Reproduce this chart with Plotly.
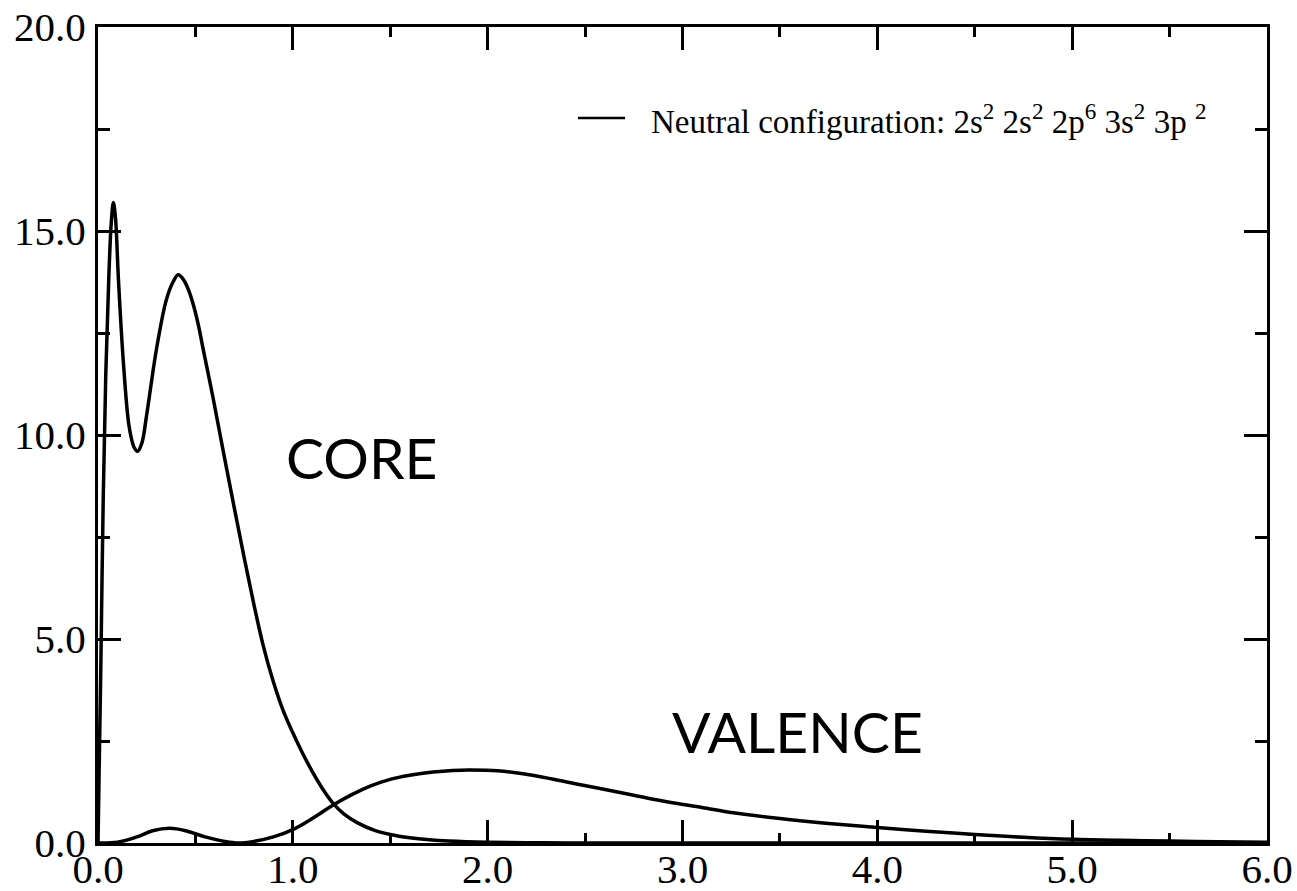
import plotly.graph_objects as go

# Core charge density
core_x = [0.0, 0.005, 0.015, 0.027, 0.04, 0.055, 0.068, 0.079, 0.09, 0.105, 0.13, 0.16, 0.185,
          0.203, 0.225, 0.25, 0.30, 0.35, 0.385, 0.412, 0.44, 0.465, 0.489, 0.515, 0.54,
          0.591, 0.643, 0.70, 0.75, 0.80, 0.85, 0.90, 0.95, 1.0, 1.05, 1.1, 1.15, 1.207,
          1.26, 1.33, 1.42, 1.5, 1.6, 1.7, 1.8, 2.0, 2.3, 2.6, 3.0, 6.0]
core_y = [0.0, 1.5, 4.5, 8.5, 11.5, 13.8, 15.2, 15.7, 15.3, 13.8, 11.8, 10.2, 9.7,
          9.6, 9.8, 10.5, 12.1, 13.3, 13.75, 13.93, 13.8, 13.55, 13.2, 12.7, 12.1,
          10.9, 9.6, 8.2, 7.0, 5.85, 4.8, 3.95, 3.25, 2.7, 2.2, 1.75, 1.35, 0.97,
          0.72, 0.5, 0.31, 0.21, 0.13, 0.08, 0.05, 0.02, 0.005, 0.0, 0.0, 0.0]

# Valence charge density
val_x = [0.0, 0.1, 0.2, 0.28, 0.37, 0.45, 0.55, 0.65, 0.72, 0.8, 0.9, 1.0, 1.1, 1.207,
         1.3, 1.4, 1.5, 1.6, 1.72, 1.82, 1.91, 2.05, 2.23, 2.4, 2.57, 2.75, 2.92, 3.1,
         3.26, 3.5, 3.75, 4.0, 4.25, 4.5, 4.75, 5.0, 5.25, 5.5, 5.75, 6.0]
val_y = [0.0, 0.02, 0.15, 0.3, 0.36, 0.3, 0.15, 0.04, 0.0, 0.04, 0.15, 0.33, 0.6, 0.93,
         1.18, 1.4, 1.56, 1.66, 1.74, 1.78, 1.79, 1.77, 1.66, 1.5, 1.34, 1.17, 1.01, 0.87,
         0.74, 0.6, 0.48, 0.38, 0.29, 0.21, 0.14, 0.09, 0.065, 0.05, 0.03, 0.02]

x_ticks = [0, 1, 2, 3, 4, 5, 6]
x_labels = ["0.0", "1.0", "2.0", "3.0", "4.0", "5.0", "6.0"]
y_ticks = [0, 5, 10, 15, 20]
y_labels = ["0.0", "5.0", "10.0", "15.0", "20.0"]

legend_text = ("Neutral configuration: 2s<sup>2</sup> 2s<sup>2</sup> 2p<sup>6</sup> "
               "3s<sup>2</sup> 3p <sup>2</sup>")

fig = go.Figure()
fig.add_trace(go.Scatter(x=core_x, y=core_y, mode="lines",
                         line=dict(color="black", width=3.5, shape="spline", smoothing=1.0),
                         showlegend=False, name="Core"))
fig.add_trace(go.Scatter(x=val_x, y=val_y, mode="lines",
                         line=dict(color="black", width=3.5, shape="spline", smoothing=1.0),
                         showlegend=False, name="Valence"))

tickfont = dict(family="Liberation Serif, Times New Roman, serif", size=41, color="black")

fig.update_xaxes(range=[0, 6], tickvals=x_ticks, ticktext=x_labels, automargin=False,
                 ticks="inside", ticklen=23, tickwidth=2.5, tickcolor="black",
                 showline=True, linewidth=3, linecolor="black", mirror="ticks",
                 showgrid=False, zeroline=False, tickfont=tickfont, ticklabelstandoff=-12,
                 minor=dict(dtick=0.5, ticks="inside", ticklen=10, tickwidth=2.5,
                            tickcolor="black", showgrid=False))
fig.update_yaxes(range=[0, 20], tickvals=y_ticks, ticktext=y_labels, automargin=False,
                 ticks="inside", ticklen=23, tickwidth=2.5, tickcolor="black",
                 showline=True, linewidth=3, linecolor="black", mirror="ticks",
                 showgrid=False, zeroline=False, tickfont=tickfont, ticklabelstandoff=1,
                 minor=dict(dtick=2.5, ticks="inside", ticklen=12, tickwidth=2.5,
                            tickcolor="black", showgrid=False))

# legend sample line and text
fig.add_shape(type="line", xref="paper", yref="paper",
              x0=(578 - 98) / 1169, x1=(625 - 98) / 1169,
              y0=(843 - 118) / 816, y1=(843 - 118) / 816,
              line=dict(color="black", width=2.5))
fig.add_annotation(text=legend_text, xref="paper", yref="paper",
                   x=(649 - 98) / 1169, y=(843 - 119) / 816,
                   xanchor="left", yanchor="middle", showarrow=False,
                   font=dict(family="Liberation Serif, Times New Roman, serif", size=33,
                             color="black"))

labfont = dict(family="Lato, sans-serif", size=57, color="black")
fig.add_annotation(text="CORE", x=1.354, y=9.45, xref="x", yref="y",
                   showarrow=False, font=labfont)
fig.add_annotation(text="VALENCE", x=3.59, y=2.745, xref="x", yref="y",
                   showarrow=False, font=labfont)

fig.update_layout(width=1297, height=891,
                  margin=dict(l=98, r=30, t=27, b=48, pad=0),
                  plot_bgcolor="white", paper_bgcolor="white")

fig.write_html("out.html")
